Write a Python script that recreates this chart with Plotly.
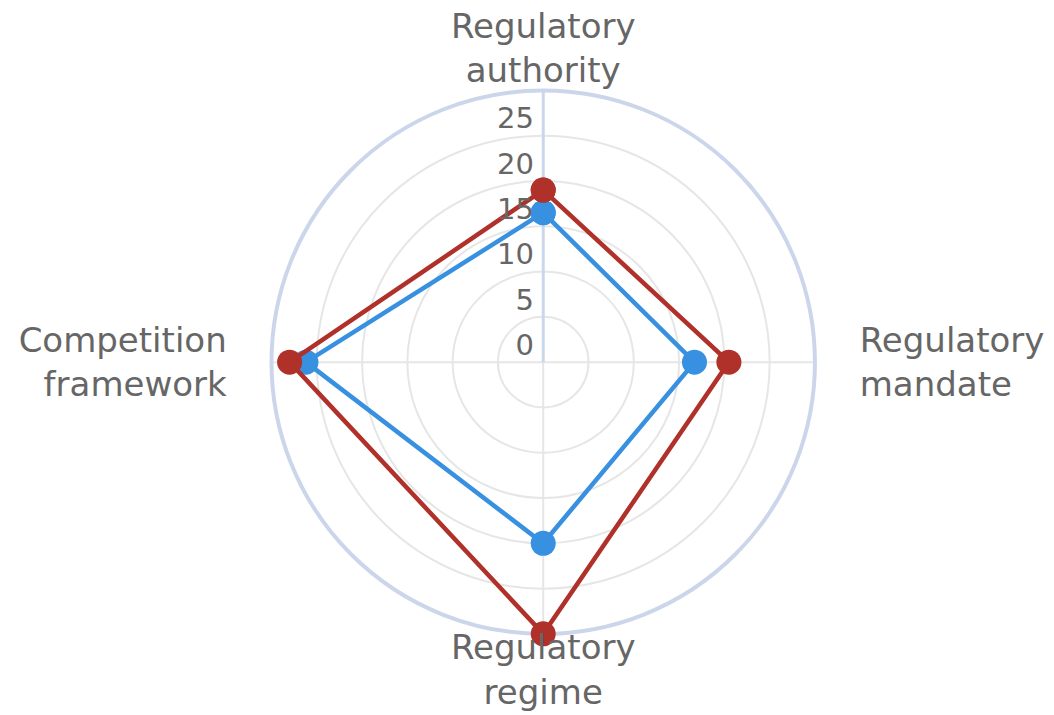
import plotly.graph_objects as go

categories = ["Regulatory<br>authority", "Regulatory<br>mandate", "Regulatory<br>regime", "Competition<br>framework"]
series_blue = [16.5, 16.7, 20, 26.2]
series_red = [19, 20.5, 30, 28]
radial_ticks = [0, 5, 10, 15, 20, 25]
radial_max = 30

BLUE = "#3890e0"
RED = "#b0302a"
AXIS = "#ccd6eb"
GRID = "#e6e6e6"
TEXT = "#666666"
FONT = "DejaVu Sans"
LABEL_SIZE = 34

fig = go.Figure()

for vals, col in [(series_blue, BLUE), (series_red, RED)]:
    fig.add_trace(go.Scatterpolar(
        r=vals + vals[:1],
        theta=categories + categories[:1],
        mode="lines+markers",
        line=dict(color=col, width=4.5),
        marker=dict(color=col, size=25),
        showlegend=False,
        cliponaxis=False,
    ))

# radial tick labels (placed above-left of each tick on the vertical axis)
fig.add_trace(go.Scatterpolar(
    r=radial_ticks,
    theta=[categories[0]] * len(radial_ticks),
    mode="text",
    text=[str(t) + "\u00a0" for t in radial_ticks],
    textposition="top left",
    textfont=dict(family=FONT, size=29, color=TEXT),
    showlegend=False,
    hoverinfo="skip",
    cliponaxis=False,
))

# top / bottom category labels hug the outer circle
vertical_idx = [0, 2]
fig.add_trace(go.Scatterpolar(
    r=[radial_max for _ in vertical_idx],
    theta=[categories[i] for i in vertical_idx],
    mode="text",
    text=[categories[i] for i in vertical_idx],
    textposition=["top center", "bottom center"],
    textfont=dict(family=FONT, size=LABEL_SIZE, color=TEXT),
    showlegend=False,
    hoverinfo="skip",
    cliponaxis=False,
))

# left / right category labels come from the angular axis ticks
tick_text = ["" if i in vertical_idx else c for i, c in enumerate(categories)]

fig.update_layout(
    width=1054,
    height=715,
    margin=dict(l=0, r=0, t=0, b=0),
    paper_bgcolor="white",
    plot_bgcolor="white",
    font=dict(family=FONT, color=TEXT),
    polar=dict(
        domain=dict(x=[0.25, 0.7656], y=[0.1242, 0.8852]),
        bgcolor="white",
        radialaxis=dict(
            range=[0, radial_max],
            dtick=5,
            angle=90,
            showticklabels=False,
            ticks="",
            showline=True,
            linecolor=AXIS,
            linewidth=3,
            gridcolor=GRID,
            gridwidth=1.5,
            layer="below traces",
        ),
        angularaxis=dict(
            type="category",
            categoryarray=categories,
            tickmode="array",
            tickvals=categories,
            ticktext=tick_text,
            rotation=90,
            direction="clockwise",
            showline=True,
            linecolor=AXIS,
            linewidth=4,
            gridcolor=GRID,
            gridwidth=1.5,
            ticks="outside",
            ticklen=36,
            tickcolor="rgba(0,0,0,0)",
            tickfont=dict(family=FONT, size=LABEL_SIZE, color=TEXT),
            layer="below traces",
        ),
    ),
)

fig.write_html("out.html")
